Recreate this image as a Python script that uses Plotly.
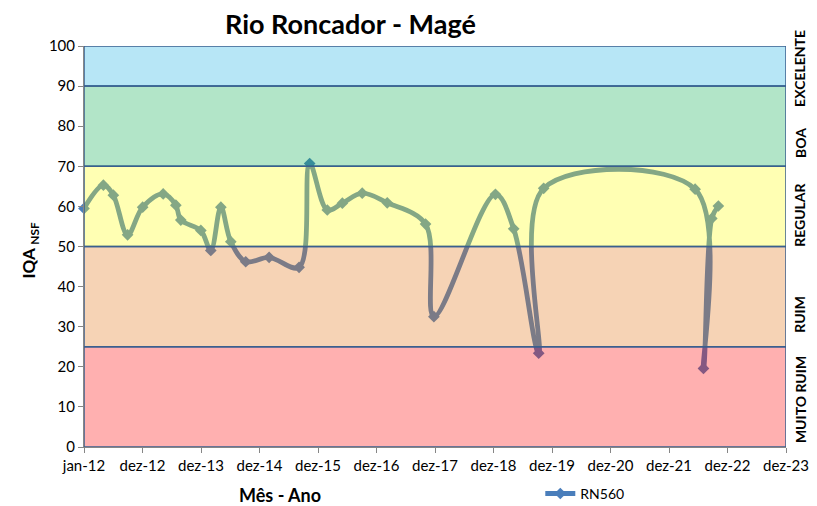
import plotly.graph_objects as go
from datetime import date, timedelta

# ---- data ----
dates = ["2012-01-01", "2012-05-01", "2012-07-02", "2012-09-29", "2013-01-01",
         "2013-05-09", "2013-07-27", "2013-08-27", "2013-12-30", "2014-03-02",
         "2014-05-04", "2014-07-05", "2014-10-06", "2015-03-01", "2015-09-04",
         "2015-11-09", "2016-02-27", "2016-05-31", "2016-10-02", "2017-03-07",
         "2017-11-01", "2017-12-23", "2019-01-11", "2019-05-05", "2019-10-08",
         "2019-11-08", "2022-06-10", "2022-08-01", "2022-09-22", "2022-11-02"]
iqa = [59.5, 65.3, 62.8, 52.9, 59.8,
       63.1, 60.3, 56.6, 54.0, 49.0,
       59.8, 51.2, 46.2, 47.3, 44.8,
       70.7, 59.1, 60.8, 63.3, 60.9,
       55.6, 32.5, 63.0, 54.4, 23.4,
       64.5, 64.3, 19.6, 57.0, 60.1]
series_name = "RN560"

tick_labels = ["jan-12", "dez-12", "dez-13", "dez-14", "dez-15", "dez-16", "dez-17",
               "dez-18", "dez-19", "dez-20", "dez-21", "dez-22", "dez-23"]

band_names = ["MUITO RUIM", "RUIM", "REGULAR", "BOA", "EXCELENTE"]
band_low = [0, 25, 50, 70, 90]
band_high = [25, 50, 70, 90, 100]
band_colors = ["rgba(255,8,8,0.32)", "rgba(227,118,24,0.32)", "rgba(255,255,20,0.32)",
               "rgba(17,174,83,0.32)", "rgba(30,177,227,0.32)"]
band_label_pos = [11.7, 33.0, 57.9, 75.8, 94.3]

# ---- axis ticks (Excel date axis, major unit 365 days) ----
start = date(2012, 1, 1)
tick_vals = [(start + timedelta(days=365 * i)).isoformat() for i in range(len(tick_labels))]
x_end = tick_vals[-1]

font_main = "Lato, Open Sans, Liberation Sans, Arial"

fig = go.Figure()
fig.add_trace(go.Scatter(
    x=dates, y=iqa, mode="lines+markers", name=series_name,
    line=dict(color="#4A7EBB", width=4.8, shape="spline", smoothing=1),
    marker=dict(symbol="diamond", size=9, color="#4A7EBB"),
    cliponaxis=False,
))

shapes = []
for lo, hi, col in zip(band_low, band_high, band_colors):
    shapes.append(dict(type="rect", xref="x", yref="y", x0=tick_vals[0], x1=x_end,
                       y0=lo, y1=hi, fillcolor=col, layer="above",
                       line=dict(color="#3A5F8F", width=1.5)))

annotations = [
    dict(text="<b>Rio Roncador - Magé</b>", xref="paper", yref="paper", x=0.379, y=1.055,
         showarrow=False, font=dict(family=font_main, size=27, color="black"),
         xanchor="center", yanchor="middle"),
    dict(text="<b>IQA <sub>NSF</sub></b>", xref="paper", yref="paper", x=-0.077, y=0.49,
         showarrow=False, textangle=-90, font=dict(family=font_main, size=17, color="black"),
         xanchor="center", yanchor="middle"),
    dict(text="<b>Mês - Ano</b>", xref="paper", yref="paper", x=0.279, y=-0.12,
         showarrow=False, font=dict(family=font_main, size=18, color="black"),
         xanchor="center", yanchor="middle"),
]
for name, pos in zip(band_names, band_label_pos):
    annotations.append(dict(text="<b>" + name + "</b>", xref="paper", yref="y", x=1.02, y=pos,
                            showarrow=False, textangle=-90,
                            font=dict(family=font_main, size=14, color="black"),
                            xanchor="center", yanchor="middle"))

# page body has an 8px margin: size the figure so the plot area lands where the reference has it
fig.update_layout(
    width=809, height=498,
    margin=dict(l=76, r=31, t=38, b=59, autoexpand=False),
    paper_bgcolor="white", plot_bgcolor="white",
    showlegend=True,
    legend=dict(x=0.65, y=-0.117, xanchor="left", yanchor="middle",
                font=dict(family=font_main, size=14, color="black"),
                bgcolor="rgba(0,0,0,0)"),
    shapes=shapes,
    annotations=annotations,
    xaxis=dict(type="date", range=[tick_vals[0], x_end], tickvals=tick_vals, ticktext=tick_labels,
               showgrid=False, zeroline=False, showline=True, linecolor="#868686", linewidth=1,
               ticks="outside", ticklen=5, tickcolor="#868686", automargin=False,
               tickfont=dict(family=font_main, size=15, color="black")),
    yaxis=dict(range=[0, 100], dtick=10, showgrid=False, zeroline=False,
               showline=True, linecolor="#868686", linewidth=1,
               ticks="outside", ticklen=5, tickcolor="#868686", automargin=False,
               tickfont=dict(family=font_main, size=15, color="black")),
)

fig.write_html("out.html")
